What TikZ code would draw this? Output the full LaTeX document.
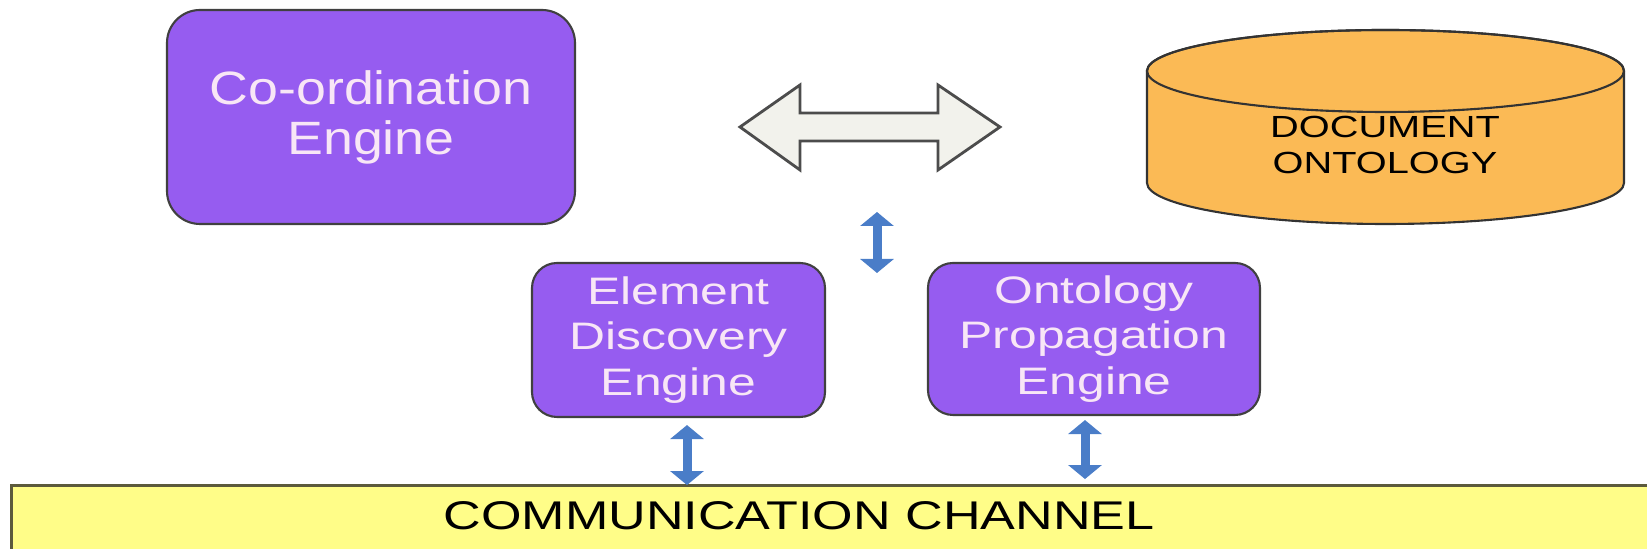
\documentclass[tikz,border=0pt]{standalone}
\usepackage{fontspec}
\setmainfont{Liberation Sans}[FakeStretch=1.3]
\newfontfamily\coordfont{Liberation Sans}[FakeStretch=1.15]
\usepackage{xcolor}
\usetikzlibrary{arrows.meta}

\definecolor{enginepurple}{HTML}{965CF0}
\definecolor{enginetext}{HTML}{F8E6F6}
\definecolor{ontoorange}{HTML}{FBBA55}
\definecolor{chanyellow}{HTML}{FFFD88}
\definecolor{chanborder}{HTML}{5C5A3C}
\definecolor{linkblue}{HTML}{4A7DC8}
\definecolor{arrowgray}{HTML}{F2F2EC}

\tikzset{
	engine/.style={draw=black!75, line width=0.6pt, fill=enginepurple, text=enginetext,
		rounded corners=0.25cm, align=center, inner sep=0pt},
	bothway/.style={draw=linkblue, line width=0.09cm, >={Triangle[width=0.33cm,length=0.14cm]}, <->}
}

\begin{document}
\begin{tikzpicture}
	\useasboundingbox (0,0) rectangle (16.47,5.49);

	\node[engine, rounded corners=0.33cm, minimum width=4.08cm, minimum height=2.14cm,
		font=\coordfont\fontsize{13.3}{14.2}\selectfont] (coord) at (3.71,4.32) {Co-ordination\\Engine};
	\node[engine, minimum width=2.93cm, minimum height=1.54cm,
		font=\fontsize{10.9}{13}\selectfont] (element) at (6.785,2.09) {Element\\Discovery\\Engine};
	\node[engine, minimum width=3.32cm, minimum height=1.52cm,
		font=\fontsize{10.9}{13}\selectfont] (onto) at (10.94,2.10) {Ontology\\Propagation\\Engine};

	\draw[draw=black!80, fill=ontoorange, line width=0.6pt] (11.47,4.78) -- (11.47,3.66)
		arc[start angle=180, end angle=360, x radius=2.385, y radius=0.41] -- (16.24,4.78)
		arc[start angle=0, end angle=180, x radius=2.385, y radius=0.41] -- cycle;
	\draw[draw=black!80, line width=0.6pt] (13.855,4.78) ellipse[x radius=2.385, y radius=0.41];
	\node[align=center, font=\fontsize{8.7}{10}\selectfont] (docont) at (13.85,4.04) {DOCUMENT\\ONTOLOGY};

	\draw[fill=arrowgray, draw=black!70, line width=0.8pt] (7.40,4.22) -- (8.00,4.64) -- (8.00,4.36)
		-- (9.38,4.36) -- (9.38,4.64) -- (10.00,4.22) -- (9.38,3.79) -- (9.38,4.08)
		-- (8.00,4.08) -- (8.00,3.79) -- cycle;

	\node[fill=chanyellow, draw=chanborder, line width=0.8pt, minimum width=16.8cm, minimum height=1cm,
		anchor=north west, inner sep=0pt] (channel) at (0.10,0.65) {};
	\node[anchor=base, font=\fontsize{11.4}{13}\selectfont] (chanlabel) at (7.99,0.19) {COMMUNICATION CHANNEL};

	\coordinate (midtop) at (8.77,3.37);
	\coordinate (midbot) at (8.77,2.76);
	\draw[bothway] (midtop) -- (midbot);
	\draw[bothway] ([xshift=0.85mm,yshift=-0.7mm]element.south) -- +(0,-0.6);
	\draw[bothway] ([xshift=-0.9mm,yshift=-0.4mm]onto.south) -- +(0,-0.59);
\end{tikzpicture}
\end{document}
